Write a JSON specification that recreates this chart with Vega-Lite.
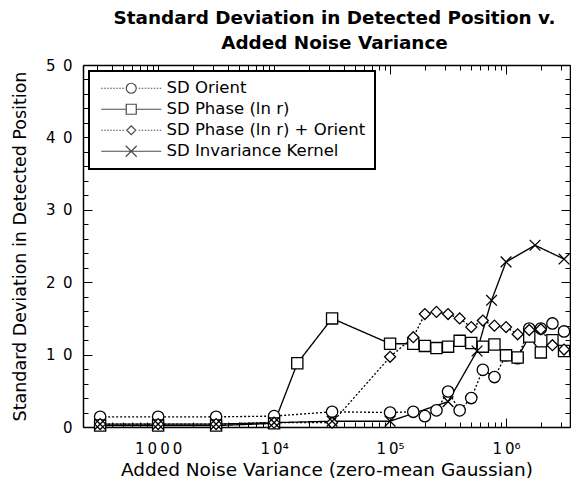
{
  "$schema": "https://vega.github.io/schema/vega-lite/v6.json",
  "width": 487,
  "height": 362,
  "autosize": {"type": "none"},
  "padding": {"left": 83, "top": 65, "right": 1, "bottom": 56},
  "background": "white",
  "title": {
    "text": ["Standard Deviation in Detected Position v.", "Added Noise Variance"],
    "font": "DejaVu Sans", "fontWeight": "bold", "fontSize": 18.4, "lineHeight": 25,
    "anchor": "middle", "offset": 6, "dx": 8, "color": "black"
  },
  "config": {
    "view": {"stroke": null},
    "legend": {"strokeWidth": 2},
    "axis": {"domainColor": "black", "domainWidth": 1.5, "tickColor": "black", "tickWidth": 1, "grid": false,
             "labelFont": "DejaVu Sans", "labelFontSize": 15, "labelColor": "black",
             "titleFont": "DejaVu Sans", "titleFontSize": 17.5, "titleFontWeight": "normal", "titleColor": "black"}
  },
  "data": {"values": [
    {"s": "SD Orient", "x": 316.2, "y": 1.4},
    {"s": "SD Orient", "x": 1000, "y": 1.4},
    {"s": "SD Orient", "x": 3162, "y": 1.4},
    {"s": "SD Orient", "x": 10000, "y": 1.5},
    {"s": "SD Orient", "x": 31623, "y": 2.1},
    {"s": "SD Orient", "x": 100000, "y": 2.0},
    {"s": "SD Orient", "x": 158489, "y": 2.1},
    {"s": "SD Orient", "x": 199526, "y": 1.5},
    {"s": "SD Orient", "x": 251189, "y": 2.3},
    {"s": "SD Orient", "x": 316228, "y": 4.9},
    {"s": "SD Orient", "x": 398107, "y": 2.3},
    {"s": "SD Orient", "x": 501187, "y": 4.0},
    {"s": "SD Orient", "x": 630957, "y": 7.9},
    {"s": "SD Orient", "x": 794328, "y": 6.9},
    {"s": "SD Orient", "x": 1000000, "y": 9.9},
    {"s": "SD Orient", "x": 1258925, "y": 9.5},
    {"s": "SD Orient", "x": 1584893, "y": 13.6},
    {"s": "SD Orient", "x": 1995262, "y": 13.6},
    {"s": "SD Orient", "x": 2511886, "y": 14.3},
    {"s": "SD Orient", "x": 3162278, "y": 13.2},
    {"s": "SD Phase (ln r)", "x": 316.2, "y": 0.2},
    {"s": "SD Phase (ln r)", "x": 1000, "y": 0.2},
    {"s": "SD Phase (ln r)", "x": 3162, "y": 0.2},
    {"s": "SD Phase (ln r)", "x": 10000, "y": 0.5},
    {"s": "SD Phase (ln r)", "x": 15849, "y": 8.8},
    {"s": "SD Phase (ln r)", "x": 31623, "y": 15.0},
    {"s": "SD Phase (ln r)", "x": 100000, "y": 11.5},
    {"s": "SD Phase (ln r)", "x": 158489, "y": 11.5},
    {"s": "SD Phase (ln r)", "x": 199526, "y": 11.2},
    {"s": "SD Phase (ln r)", "x": 251189, "y": 10.9},
    {"s": "SD Phase (ln r)", "x": 316228, "y": 11.1},
    {"s": "SD Phase (ln r)", "x": 398107, "y": 11.9},
    {"s": "SD Phase (ln r)", "x": 501187, "y": 11.6},
    {"s": "SD Phase (ln r)", "x": 630957, "y": 11.1},
    {"s": "SD Phase (ln r)", "x": 794328, "y": 11.4},
    {"s": "SD Phase (ln r)", "x": 1000000, "y": 9.9},
    {"s": "SD Phase (ln r)", "x": 1258925, "y": 9.6},
    {"s": "SD Phase (ln r)", "x": 1584893, "y": 12.5},
    {"s": "SD Phase (ln r)", "x": 1995262, "y": 10.3},
    {"s": "SD Phase (ln r)", "x": 2511886, "y": 12.0},
    {"s": "SD Phase (ln r)", "x": 3162278, "y": 10.5},
    {"s": "SD Phase (ln r) + Orient", "x": 316.2, "y": 0.4},
    {"s": "SD Phase (ln r) + Orient", "x": 1000, "y": 0.4},
    {"s": "SD Phase (ln r) + Orient", "x": 3162, "y": 0.4},
    {"s": "SD Phase (ln r) + Orient", "x": 10000, "y": 0.6},
    {"s": "SD Phase (ln r) + Orient", "x": 31623, "y": 0.6},
    {"s": "SD Phase (ln r) + Orient", "x": 100000, "y": 9.7},
    {"s": "SD Phase (ln r) + Orient", "x": 158489, "y": 12.4},
    {"s": "SD Phase (ln r) + Orient", "x": 199526, "y": 15.6},
    {"s": "SD Phase (ln r) + Orient", "x": 251189, "y": 15.9},
    {"s": "SD Phase (ln r) + Orient", "x": 316228, "y": 15.6},
    {"s": "SD Phase (ln r) + Orient", "x": 398107, "y": 15.0},
    {"s": "SD Phase (ln r) + Orient", "x": 501187, "y": 13.8},
    {"s": "SD Phase (ln r) + Orient", "x": 630957, "y": 14.7},
    {"s": "SD Phase (ln r) + Orient", "x": 794328, "y": 14.0},
    {"s": "SD Phase (ln r) + Orient", "x": 1000000, "y": 13.8},
    {"s": "SD Phase (ln r) + Orient", "x": 1258925, "y": 12.8},
    {"s": "SD Phase (ln r) + Orient", "x": 1584893, "y": 13.4},
    {"s": "SD Phase (ln r) + Orient", "x": 1995262, "y": 13.5},
    {"s": "SD Phase (ln r) + Orient", "x": 2511886, "y": 11.3},
    {"s": "SD Phase (ln r) + Orient", "x": 3162278, "y": 10.7},
    {"s": "SD Invariance Kernel", "x": 316.2, "y": 0.4},
    {"s": "SD Invariance Kernel", "x": 1000, "y": 0.4},
    {"s": "SD Invariance Kernel", "x": 3162, "y": 0.4},
    {"s": "SD Invariance Kernel", "x": 10000, "y": 0.6},
    {"s": "SD Invariance Kernel", "x": 31623, "y": 0.8},
    {"s": "SD Invariance Kernel", "x": 100000, "y": 0.8},
    {"s": "SD Invariance Kernel", "x": 316228, "y": 3.5},
    {"s": "SD Invariance Kernel", "x": 562341, "y": 10.5},
    {"s": "SD Invariance Kernel", "x": 749894, "y": 17.5},
    {"s": "SD Invariance Kernel", "x": 1000000, "y": 22.8},
    {"s": "SD Invariance Kernel", "x": 1778279, "y": 25.1},
    {"s": "SD Invariance Kernel", "x": 3162278, "y": 23.2}
  ]},
  "resolve": {"scale": {"shape": "independent", "size": "independent"}, "axis": {"x": "independent", "y": "independent"}},
  "layer": [
    {
      "mark": {"type": "line", "color": "black", "strokeWidth": 1.35},
      "encoding": {
        "x": {"field": "x", "type": "quantitative",
              "scale": {"type": "log", "domain": [225, 3560000], "nice": false},
              "axis": {"orient": "bottom", "title": "Added Noise Variance (zero-mean Gaussian)", "titlePadding": 4, "titleFontSize": 18.5,
                       "values": [300,400,500,600,700,800,900,1000,2000,3000,4000,5000,6000,7000,8000,9000,10000,20000,30000,40000,50000,60000,70000,80000,90000,100000,200000,300000,400000,500000,600000,700000,800000,900000,1000000,2000000,3000000],
                       "tickSize": {"condition": {"test": "indexof([1000,10000,100000,1000000], datum.value) >= 0", "value": -9}, "value": -5},
                       "labelPadding": 23,
                       "labelExpr": "datum.value == 1000 ? '1\u20090\u20090\u20090' : datum.value == 10000 ? '1\u20090\u2074' : datum.value == 100000 ? '1\u20090\u2075' : datum.value == 1000000 ? '1\u20090\u2076' : ''"}},
        "y": {"field": "y", "type": "quantitative",
              "scale": {"domain": [0, 50], "nice": false},
              "axis": {"orient": "left", "title": "Standard Deviation in Detected Position", "titlePadding": 16,
                       "values": [0,2,4,6,8,10,12,14,16,18,20,22,24,26,28,30,32,34,36,38,40,42,44,46,48,50],
                       "tickSize": {"condition": {"test": "datum.value % 10 == 0", "value": -9}, "value": -5},
                       "labelPadding": 20,
                       "labelExpr": "datum.value == 0 ? '0' : datum.value % 10 == 0 ? (datum.value / 10) + '\u2002' + '0' : ''"}},
        "strokeDash": {"field": "s", "type": "nominal",
                       "scale": {"domain": ["SD Orient", "SD Phase (ln r)", "SD Phase (ln r) + Orient", "SD Invariance Kernel"],
                                 "range": [[2, 2], [1, 0], [2, 2], [1, 0]]},
                       "legend": null}
      }
    },
    {
      "mark": {"type": "point", "filled": true, "fill": "white", "stroke": "black", "strokeWidth": 1.3, "opacity": 1},
      "encoding": {
        "x": {"field": "x", "type": "quantitative",
              "axis": {"orient": "top", "title": null, "labels": false,
                       "values": [300,400,500,600,700,800,900,1000,2000,3000,4000,5000,6000,7000,8000,9000,10000,20000,30000,40000,50000,60000,70000,80000,90000,100000,200000,300000,400000,500000,600000,700000,800000,900000,1000000,2000000,3000000],
                       "tickSize": {"condition": {"test": "indexof([1000,10000,100000,1000000], datum.value) >= 0", "value": -9}, "value": -5}}},
        "y": {"field": "y", "type": "quantitative",
              "axis": {"orient": "right", "title": null, "labels": false,
                       "values": [0,2,4,6,8,10,12,14,16,18,20,22,24,26,28,30,32,34,36,38,40,42,44,46,48,50],
                       "tickSize": {"condition": {"test": "datum.value % 10 == 0", "value": -9}, "value": -5}}},
        "shape": {"field": "s", "type": "nominal",
                  "scale": {"domain": ["SD Orient", "SD Phase (ln r)", "SD Phase (ln r) + Orient", "SD Invariance Kernel"],
                            "range": ["circle", "square", "diamond", "M-1,-1L1,1M-1,1L1,-1"]},
                  "legend": null},
        "size": {"field": "s", "type": "nominal",
                 "scale": {"domain": ["SD Orient", "SD Phase (ln r)", "SD Phase (ln r) + Orient", "SD Invariance Kernel"],
                           "range": [130, 115, 100, 165]},
                 "legend": null}
      }
    },
    {
      "transform": [{"filter": "false"}],
      "mark": {"type": "point", "filled": false, "stroke": "black", "strokeWidth": 1.2},
      "encoding": {
        "x": {"field": "x", "type": "quantitative", "axis": null},
        "y": {"field": "y", "type": "quantitative", "axis": null},
        "shape": {"field": "s", "type": "nominal",
                  "scale": {"domain": ["SD Orient", "SD Phase (ln r)", "SD Phase (ln r) + Orient", "SD Invariance Kernel"],
                            "range": [
                              "M-6,0h0.3m0.3,0h0.3m0.3,0h0.3m0.3,0h0.3m0.3,0h0.3m0.3,0h0.3m0.3,0h0.3m0.3,0h0.3M1.5,0h0.3m0.3,0h0.3m0.3,0h0.3m0.3,0h0.3m0.3,0h0.3m0.3,0h0.3m0.3,0h0.3m0.3,0h0.3M-1,0A1,1,0,1,0,1,0A1,1,0,1,0,-1,0Z",
                              "M-6,0H-1M1,0H6M-1,-1H1V1H-1Z",
                              "M-6,0h0.3m0.3,0h0.3m0.3,0h0.3m0.3,0h0.3m0.3,0h0.3m0.3,0h0.3m0.3,0h0.3m0.3,0h0.3M1.5,0h0.3m0.3,0h0.3m0.3,0h0.3m0.3,0h0.3m0.3,0h0.3m0.3,0h0.3m0.3,0h0.3m0.3,0h0.3M-0.9,0L0,-0.9L0.9,0L0,0.9Z",
                              "M-6,0H6M-1.1,-1.1L1.1,1.1M-1.1,1.1L1.1,-1.1"
                            ]},
                  "legend": {"orient": "top-left", "offset": 6, "title": null, "padding": 9,
                             "strokeColor": "black", "fillColor": "white",
                             "labelFont": "DejaVu Sans", "labelFontSize": 16.5, "labelColor": "black", "labelLimit": 400,
                             "symbolSize": 100, "symbolStrokeWidth": 1.2, "symbolStrokeColor": "black", "symbolFillColor": "white",
                             "symbolOffset": 25, "labelOffset": 27, "rowPadding": 4}}
      }
    }
  ]
}
